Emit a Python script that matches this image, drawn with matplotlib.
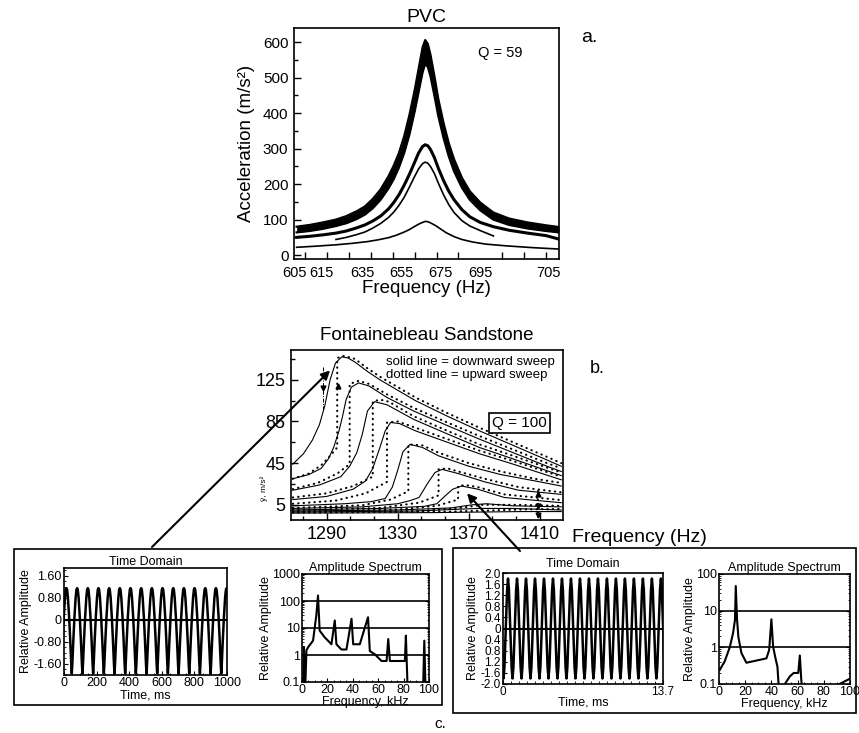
import numpy as np
import matplotlib.pyplot as plt
from matplotlib.patches import Rectangle
from matplotlib.ticker import FixedLocator, MultipleLocator, NullFormatter, LogLocator

plt.rcParams['font.family'] = ['Liberation Sans', 'DejaVu Sans']
plt.rcParams['axes.linewidth'] = 1.2

# ---------------- a. PVC resonance curves
pvc_f = [605, 610, 615, 620, 624, 628, 631, 634, 637, 640, 642, 644, 646, 648, 650, 651.5, 653, 654,
         655, 656, 657.5, 659, 661, 663, 665, 668, 671, 675, 680, 686, 693, 700, 705]
pvc_band_hi = [80, 85, 92, 100, 110, 124, 137, 158, 185, 222, 252, 288, 335, 395, 465, 525, 585, 606,
               595, 565, 505, 440, 372, 315, 270, 218, 180, 148, 120, 103, 92, 84, 79]
pvc_band_lo = [64, 68, 74, 82, 90, 102, 114, 132, 156, 188, 214, 247, 288, 340, 405, 460, 515, 540,
               530, 505, 450, 392, 330, 278, 236, 190, 156, 126, 100, 85, 75, 68, 64]
pvc_y2 = [50, 53, 57, 62, 68, 77, 85, 96, 110, 130, 148, 170, 197, 228, 262, 288, 306, 311,
          308, 298, 275, 245, 210, 180, 156, 128, 108, 92, 80, 70, 62, 55, 45]

pvc_f3 = [620, 624, 628, 631, 634, 637, 640, 642, 644, 646, 648, 650, 651.5, 653, 654,
          655, 656, 657.5, 659, 661, 663, 665, 668, 671, 675, 680]
pvc_y3 = [44, 50, 58, 65, 76, 89, 106, 121, 140, 163, 192, 222, 243, 258, 262,
          259, 250, 230, 203, 170, 142, 120, 97, 82, 69, 54]

pvc_f4 = [605, 612, 620, 626, 632, 636, 640, 643, 646, 648, 650, 652, 654, 655, 656, 658, 660, 662,
          665, 668, 672, 677, 685, 695, 705]
pvc_y4 = [22, 25, 29, 33, 38, 43, 49, 56, 65, 72, 81, 89, 95, 94, 91, 83, 73, 63,
          52, 44, 37, 31, 26, 21, 17]

pvc_tick_pos = [604, 614.3, 630, 645, 660, 675, 701]
pvc_tick_lab = ['605', '615', '635', '655', '675', '695', '705']

# ---------------- b. Fontainebleau sandstone, downward (solid) sweeps
down_f = [
    [1271, 1277, 1282, 1286, 1289, 1292, 1295, 1298.5, 1302, 1306, 1313, 1320, 1330, 1340, 1358, 1376, 1395, 1414, 1422],
    [1271, 1280, 1287, 1291, 1294, 1297, 1299, 1301, 1304, 1308, 1314, 1324, 1339, 1358, 1376, 1395, 1414, 1422],
    [1271, 1286, 1298, 1303, 1307, 1310, 1313, 1317, 1324, 1339, 1358, 1376, 1395, 1422],
    [1271, 1290, 1305, 1312, 1316, 1320, 1323, 1326, 1331, 1340, 1358, 1376, 1395, 1422],
    [1271, 1300, 1315, 1323, 1327, 1330, 1333, 1337, 1344, 1353, 1370, 1388, 1407, 1422],
    [1271, 1310, 1330, 1337, 1342, 1347, 1351, 1355, 1364, 1379, 1398, 1422],
    [1271, 1320, 1345, 1352, 1357, 1361, 1366, 1375, 1390, 1422],
    [1271, 1330, 1360, 1372, 1380, 1395, 1422],
    [1271, 1340, 1375, 1395, 1422],
    [1271, 1350, 1400, 1422],
]
down_y = [
    [44, 54, 67, 82, 100, 125, 141, 147, 146, 142, 133, 125, 115, 105, 90, 76, 62, 48, 42],
    [30, 34, 40, 49, 60, 76, 90, 106, 118, 122, 119, 108, 95, 81, 68, 55, 42, 37],
    [19, 24, 32, 42, 55, 72, 95, 104, 101, 87, 73, 60, 49, 33],
    [10, 13, 20, 28, 40, 60, 76, 84, 83, 76, 65, 54, 44, 29],
    [4, 6, 8, 11, 22, 38, 56, 63, 60, 52, 42, 34, 28, 23],
    [1.5, 3, 6, 9, 12, 26, 36, 39, 35, 27, 19, 15],
    [0, 1.5, 3.5, 6, 14, 20, 23, 20, 12, 7],
    [-1, 0, 2, 5, 6, 4, 3],
    [-2, -1, 1.5, 1.5, 0],
    [-3, -2.5, -1.5, -1.5],
]
# upward (dotted) sweeps, with their jumps
up_f = [
    [1271, 1280, 1287, 1292, 1296, 1296, 1300, 1306, 1313, 1320, 1330, 1340, 1358, 1376, 1395, 1414, 1422],
    [1271, 1285, 1296, 1303, 1303, 1308, 1314, 1324, 1339, 1358, 1376, 1395, 1414, 1422],
    [1271, 1290, 1305, 1316, 1316, 1320, 1325, 1339, 1358, 1376, 1395, 1422],
    [1271, 1295, 1312, 1324, 1324, 1330, 1340, 1358, 1376, 1395, 1422],
    [1271, 1310, 1326, 1336, 1336, 1344, 1353, 1370, 1388, 1407, 1422],
    [1271, 1320, 1342, 1353, 1353, 1358, 1364, 1379, 1398, 1422],
    [1271, 1330, 1352, 1364, 1364, 1368, 1375, 1390, 1422],
    [1271, 1340, 1365, 1378, 1395, 1422],
    [1271, 1360, 1400, 1422],
]
up_y = [
    [30, 35, 43, 52, 60, 146, 148, 145, 136, 128, 118, 108, 93, 79, 65, 51, 45],
    [20, 26, 35, 44, 121, 124, 121, 111, 98, 84, 71, 58, 45, 40],
    [12, 16, 23, 32, 104, 106, 104, 90, 76, 63, 52, 36],
    [6, 9, 16, 27, 84, 85, 79, 68, 57, 47, 32],
    [2, 4.5, 10, 18, 63, 62, 55, 45, 37, 30, 26],
    [0, 2, 7, 14, 39, 40, 37, 30, 22, 17],
    [-1.5, 0.5, 4, 10, 23, 24, 22, 15, 9.5],
    [-2, -1, 2, 5, 5, 4],
    [-2.5, -1.5, 0.5, 1],
]
jump_down_f, jump_down_y = [1288, 1288], [137, 96]
jump_marks = [(1288, 117, 'v'), (1296.5, 119, '^'), (1409, 15, '^'), (1409, 4, 'v'), (1409, -5, 'v')]
jump_right_f, jump_right_y = [1409, 1409], [-7, 19]

# ---------------- c. time traces (one cycle) and spectra
left_phase = [0.0, 0.06, 0.14, 0.25, 0.35, 0.45, 0.5, 0.55, 0.65, 0.75, 0.86, 0.94, 1.0]
left_cycle = [1.15, 1.1, 0.8, 0.1, -0.7, -1.6, -1.95, -1.6, -0.7, 0.1, 0.8, 1.1, 1.15]
left_period, left_first_peak, left_cycles = 65.5, 15.0, 16

right_phase = [0.0, 0.1, 0.25, 0.4, 0.5, 0.6, 0.75, 0.9, 1.0]
right_cycle = [1.8, 1.4, 0.0, -1.4, -1.8, -1.4, 0.0, 1.4, 1.8]
right_period, right_first_peak, right_cycles = 0.77, 0.43, 18

spec1_f = [1.0, 1.5, 2.5, 3.5, 5.0, 8.7, 11.3, 12.6, 13.9, 17.9, 23.2, 25.8, 27.1, 31.0, 35.0, 39.0, 40.3, 45.5,
           52.0, 53.4, 57.4, 62.6, 66.6, 67.9, 69.2, 81.0, 81.8, 83.2, 95.3, 96.3, 97.3]
spec1_a = [0.05, 2.0, 0.05, 1.5, 2.0, 3.4, 30, 160, 8, 4.5, 2.5, 19, 2.5, 1.6, 1.6, 22, 2.5, 2.5,
           25, 1.4, 1.06, 0.6, 0.6, 3.9, 0.6, 0.6, 5.2, 0.05, 0.05, 3.4, 0.05]

spec2_f = [0.5, 4.3, 8.2, 10.7, 12.2, 12.8, 13.8, 14.8, 17.1, 20.9, 36.2, 38.3, 40.0, 41.3, 43.4, 44.6, 46.0,
           50.3, 54.0, 57.0, 60.5, 61.7, 62.8, 64.0, 88.0, 92.0, 100]
spec2_a = [0.24, 0.41, 1.0, 2.4, 5.6, 47, 5.6, 1.9, 0.7, 0.38, 0.5, 0.85, 5.8, 1.05, 0.45, 0.3, 0.05,
           0.1, 0.16, 0.2, 0.2, 0.6, 0.13, 0.05, 0.05, 0.1, 0.14]

W, H = 859, 733
fig = plt.figure(figsize=(W / 100, H / 100), dpi=100)


def box(l, t, r, b):
    return [l / W, 1 - b / H, (r - l) / W, (b - t) / H]


def at(x, y):
    return x / W, 1 - y / H


def trace(phase, cycle, period, first_peak, n):
    ks = np.arange(-1, n + 1)
    t = (ks[:, None] + np.asarray(phase[:-1])[None, :]) * period + first_peak
    return t.ravel(), np.tile(cycle[:-1], len(ks))


# background layer: frames of panel c
bg = fig.add_axes([0, 0, 1, 1])
bg.set_xlim(0, W)
bg.set_ylim(H, 0)
bg.axis('off')
bg.add_patch(Rectangle((14, 549), 428, 156, fill=False, lw=1.2))
bg.add_patch(Rectangle((453, 548), 403, 165, fill=False, lw=1.2))

# ---- panel a
ax = fig.add_axes(box(294, 28, 559, 259))
ax.fill_between(pvc_f, pvc_band_lo, pvc_band_hi, color='black', lw=0)
ax.plot(pvc_f, pvc_band_hi, 'k', lw=1.6)
ax.plot(pvc_f, pvc_band_lo, 'k', lw=1.6)
ax.plot(pvc_f, pvc_y2, 'k', lw=2.2)
ax.plot(pvc_f3, pvc_y3, 'k', lw=1.2)
ax.plot(pvc_f4, pvc_y4, 'k', lw=1.2)
ax.set_xlim(605, 705)
ax.set_ylim(-11, 640)
ax.set_xticks(pvc_tick_pos)
ax.set_xticklabels(pvc_tick_lab)
ax.xaxis.set_minor_locator(MultipleLocator(100 / 12))
ax.tick_params(axis='x', which='major', length=0, labelsize=10.5, pad=5)
ax.tick_params(axis='x', which='minor', direction='in', length=5, width=1)
ax.set_yticks(range(0, 700, 100))
ax.yaxis.set_minor_locator(MultipleLocator(50))
ax.tick_params(axis='y', which='major', direction='in', length=5, width=1, labelsize=11, pad=4)
ax.tick_params(axis='y', which='minor', direction='in', length=3, width=1)
ax.set_ylabel('Acceleration (m/s²)', fontsize=13.5, labelpad=6)
ax.set_xlabel('Frequency (Hz)', fontsize=13.5, labelpad=0)
ax.set_title('PVC', fontsize=14, pad=4)
ax.text(0.777, 0.89, 'Q = 59', transform=ax.transAxes, fontsize=10.5, ha='center', va='center')
fig.text(*at(581, 38), 'a.', fontsize=14, va='center')

# ---- panel b
axb = fig.add_axes(box(291, 350, 563, 520))
for f, y in zip(down_f, down_y):
    axb.plot(f, y, 'k', lw=0.8)
for f, y in zip(up_f, up_y):
    axb.plot(f, y, color='k', lw=1.5, ls=(0, (0.2, 2.4)), dash_capstyle='round')
axb.plot(jump_down_f, jump_down_y, 'k', lw=0.7, ls=(0, (4, 1.5, 1, 1.5)))
axb.plot(jump_right_f, jump_right_y, color='k', lw=1.4, ls=(0, (0.2, 2.0)), dash_capstyle='round')
for fx, fy, mk in jump_marks:
    axb.plot(fx, fy, marker=mk, color='k', ms=3.5)
axb.set_xlim(1270, 1423)
axb.set_ylim(-9.6, 153.6)
axb.set_xticks([1290, 1330, 1370, 1410])
axb.xaxis.set_minor_locator(FixedLocator([1276.7, 1303.3, 1316.7, 1343.3, 1356.7, 1383.3, 1396.7]))
axb.set_yticks([5, 45, 85, 125])
axb.yaxis.set_minor_locator(FixedLocator([25, 65, 105, 145]))
axb.tick_params(which='major', direction='in', length=5, width=1, labelsize=13, pad=4)
axb.tick_params(which='minor', direction='in', length=3, width=1)
axb.set_title('Fontainebleau Sandstone', fontsize=13.5, pad=7)
axb.text(0.35, 0.93, 'solid line = downward sweep', transform=axb.transAxes, fontsize=9.5, va='center')
axb.text(0.35, 0.855, 'dotted line = upward sweep', transform=axb.transAxes, fontsize=9.5, va='center')
axb.text(0.84, 0.57, 'Q = 100', transform=axb.transAxes, fontsize=11, ha='center', va='center',
         bbox=dict(boxstyle='square,pad=0.2', fc='white', ec='black', lw=1.2))
fig.text(*at(264, 488), 'ÿ, m/s²', fontsize=6, rotation=90, ha='center', va='center')
fig.text(*at(572, 537), 'Frequency (Hz)', fontsize=14, va='center')
fig.text(*at(590, 368), 'b.', fontsize=13, va='center')

arrow = dict(arrowstyle='-|>', lw=1.5, color='black', mutation_scale=13, shrinkA=0, shrinkB=0)
axb.annotate('', xy=(1292, 134), xycoords='data', xytext=(152, 547), textcoords=bg.transData,
             arrowprops=arrow, annotation_clip=False)
axb.annotate('', xy=(1369, 16), xycoords='data', xytext=(520, 551), textcoords=bg.transData,
             arrowprops=arrow, annotation_clip=False)

# ---- panel c, left pair
small = 9
ct1 = fig.add_axes(box(64, 568, 227, 675))
t1, v1 = trace(left_phase, left_cycle, left_period, left_first_peak, left_cycles)
ct1.plot(t1, v1, 'k', lw=1.8)
ct1.axhline(0, color='k', lw=1.5)
ct1.set_xlim(0, 1000)
ct1.set_ylim(-2.0, 1.88)
ct1.set_xticks(range(0, 1001, 200))
ct1.xaxis.set_minor_locator(MultipleLocator(50))
ct1.set_yticks([1.6, 0.8, 0, -0.8, -1.6])
ct1.set_yticklabels(['1.60', '0.80', '0', '-0.80', '-1.60'])
ct1.yaxis.set_minor_locator(MultipleLocator(0.2))
ct1.tick_params(which='major', direction='in', length=3, labelsize=small, pad=1.5)
ct1.tick_params(which='minor', direction='in', length=1.5)
ct1.set_title('Time Domain', fontsize=small, pad=2)
ct1.set_xlabel('Time, ms', fontsize=small, labelpad=0)
ct1.set_ylabel('Relative Amplitude', fontsize=small, labelpad=1)

cs1 = fig.add_axes(box(302, 574, 429, 682))
cs1.semilogy(spec1_f, spec1_a, 'k', lw=1.5)
for level in [1, 10, 100]:
    cs1.axhline(level, color='k', lw=1.2)
cs1.set_xlim(0, 100)
cs1.set_ylim(0.1, 1000)
cs1.set_xticks(range(0, 101, 20))
cs1.xaxis.set_minor_locator(MultipleLocator(5))
cs1.set_yticks([0.1, 1, 10, 100, 1000])
cs1.set_yticklabels(['0.1', '1', '10', '100', '1000'])
cs1.yaxis.set_minor_locator(LogLocator(subs=np.arange(2, 10)))
cs1.yaxis.set_minor_formatter(NullFormatter())
cs1.tick_params(which='major', direction='in', length=3, labelsize=small, pad=1.5, right=True)
cs1.tick_params(which='minor', direction='in', length=1.5, right=True)
cs1.set_title('Amplitude Spectrum', fontsize=small, pad=2)
cs1.set_xlabel('Frequency, kHz', fontsize=small, labelpad=0)
cs1.set_ylabel('Relative Amplitude', fontsize=small, labelpad=0)

# ---- panel c, right pair
ct2 = fig.add_axes(box(503, 573, 663, 684))
t2, v2 = trace(right_phase, right_cycle, right_period, right_first_peak, right_cycles)
ct2.plot(t2, v2, 'k', lw=1.8)
ct2.axhline(0, color='k', lw=1.5)
ct2.set_xlim(0, 13.7)
ct2.set_ylim(-2.0, 2.0)
ct2.set_xticks([0, 13.7])
ct2.set_xticklabels(['0', '13.7'])
ct2.xaxis.set_minor_locator(MultipleLocator(13.7 / 20))
ct2.set_yticks(np.arange(-2.0, 2.01, 0.4))
ct2.set_yticklabels(['-2.0', '-1.6', '1.2', '0.8', '0.4', '0', '0.4', '0.8', '1.2', '1.6', '2.0'])
ct2.tick_params(which='major', direction='in', length=3, labelsize=8.5, pad=1.5)
ct2.tick_params(which='minor', direction='in', length=2)
ct2.set_title('Time Domain', fontsize=small, pad=4)
ct2.set_xlabel('Time, ms', fontsize=small, labelpad=-1)
ct2.set_ylabel('Relative Amplitude', fontsize=small, labelpad=1)

cs2 = fig.add_axes(box(719, 574, 850, 684))
cs2.semilogy(spec2_f, spec2_a, 'k', lw=1.5)
for level in [1, 10]:
    cs2.axhline(level, color='k', lw=1.2)
cs2.set_xlim(0, 100)
cs2.set_ylim(0.1, 100)
cs2.set_xticks(range(0, 101, 20))
cs2.xaxis.set_minor_locator(MultipleLocator(5))
cs2.set_yticks([0.1, 1, 10, 100])
cs2.set_yticklabels(['0.1', '1', '10', '100'])
cs2.yaxis.set_minor_locator(LogLocator(subs=np.arange(2, 10)))
cs2.yaxis.set_minor_formatter(NullFormatter())
cs2.tick_params(which='major', direction='in', length=3, labelsize=small, pad=1.5, right=True)
cs2.tick_params(which='minor', direction='in', length=1.5, right=True)
cs2.set_title('Amplitude Spectrum', fontsize=small, pad=2)
cs2.set_xlabel('Frequency, kHz', fontsize=small, labelpad=0)
cs2.set_ylabel('Relative Amplitude', fontsize=small, labelpad=0)

fig.text(*at(440, 724), 'c.', fontsize=11, ha='center', va='center')

fig.savefig('out.png', dpi=100)
